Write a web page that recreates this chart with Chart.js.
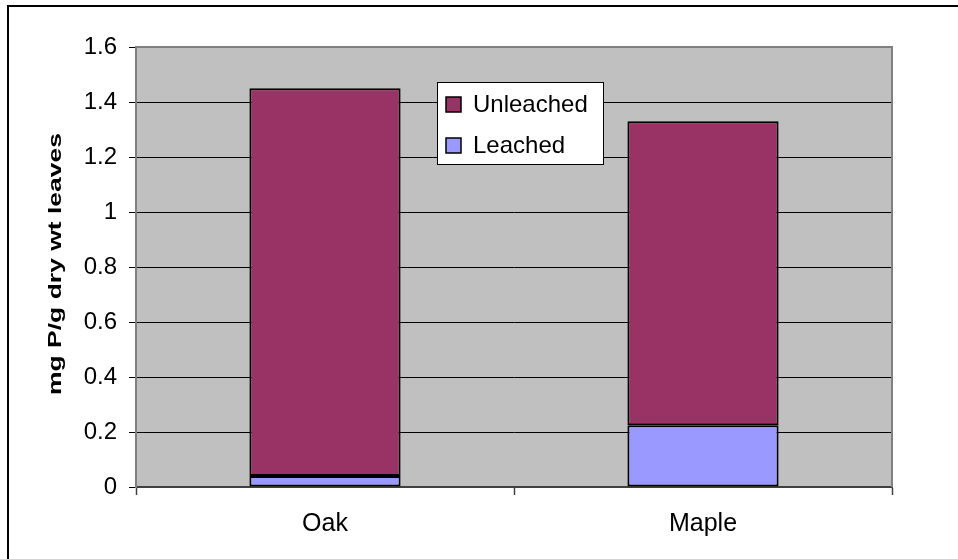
<!DOCTYPE html>
<html>
<head>
<meta charset="utf-8">
<title>Phosphorus in leaves</title>
<script src="https://cdn.jsdelivr.net/npm/chart.js@4/dist/chart.umd.min.js"></script>
<style>
  html, body { margin: 0; padding: 0; background: #ffffff; }
  #wrap { width: 958px; height: 559px; }
</style>
</head>
<body>
<div id="wrap"><canvas id="chart" width="958" height="559"></canvas></div>
<script>
// Phosphorus content (mg P per g dry weight of leaves)
const categories = ['Oak', 'Maple'];
const leached = [0.04, 0.225];
const unleached = [1.41, 1.105];
const yTickLabels = ['0', '0.2', '0.4', '0.6', '0.8', '1', '1.2', '1.4', '1.6'];
const yTitle = 'mg P/g dry wt leaves';

const FONT = '"Liberation Sans", Arial, sans-serif';

// grey plot background plus a grey frame on the top and right edges
const plotBackground = {
  id: 'plotBackground',
  beforeDraw(chart) {
    const { ctx, chartArea: a } = chart;
    ctx.save();
    ctx.fillStyle = '#c0c0c0';
    ctx.fillRect(a.left, a.top, a.right - a.left, a.bottom - a.top);
    ctx.restore();
  },
  afterDatasetsDraw(chart) {
    const { ctx, chartArea: a } = chart;
    ctx.save();
    ctx.strokeStyle = '#808080';
    ctx.lineWidth = 2;
    ctx.beginPath();
    ctx.moveTo(a.left, a.top);
    ctx.lineTo(a.right, a.top);
    ctx.lineTo(a.right, a.bottom);
    ctx.stroke();
    ctx.restore();
  }
};

// boxed legend sitting inside the plot area
const boxedLegend = {
  id: 'boxedLegend',
  afterDraw(chart) {
    const { ctx } = chart;
    const x = 437, y = 82, w = 166, h = 82;
    ctx.save();
    ctx.fillStyle = '#ffffff';
    ctx.fillRect(x, y, w, h);
    ctx.strokeStyle = '#000000';
    ctx.lineWidth = 1;
    ctx.strokeRect(x + 0.5, y + 0.5, w, h);
    const items = chart.data.datasets.slice().reverse();
    const rows = [104.5, 145.5];
    ctx.font = '24px ' + FONT;
    ctx.textBaseline = 'middle';
    ctx.textAlign = 'left';
    items.forEach((ds, i) => {
      const cy = rows[i];
      ctx.fillStyle = ds.backgroundColor;
      ctx.fillRect(446, cy - 7.5, 15, 15);
      ctx.strokeStyle = '#000000';
      ctx.lineWidth = 1.5;
      ctx.strokeRect(446, cy - 7.5, 15, 15);
      ctx.fillStyle = '#000000';
      ctx.fillText(ds.label, 473, cy + 1);
    });
    ctx.restore();
  }
};

// rotated, bold value-axis title, stretched along its reading direction
const axisTitle = {
  id: 'axisTitle',
  afterDraw(chart) {
    const { ctx } = chart;
    ctx.save();
    ctx.font = 'bold 19px ' + FONT;
    const stretch = 262 / ctx.measureText(yTitle).width;
    ctx.translate(56, 264);
    ctx.rotate(-Math.PI / 2);
    ctx.scale(stretch, 1);
    ctx.fillStyle = '#000000';
    ctx.textAlign = 'center';
    ctx.textBaseline = 'middle';
    ctx.fillText(yTitle, 0, 0);
    ctx.restore();
  }
};

// outer chart frame
const outerFrame = {
  id: 'outerFrame',
  afterDraw(chart) {
    const { ctx } = chart;
    ctx.save();
    ctx.strokeStyle = '#000000';
    ctx.lineWidth = 2;
    ctx.beginPath();
    ctx.moveTo(8, 600);
    ctx.lineTo(8, 6);
    ctx.lineTo(1000, 6);
    ctx.stroke();
    ctx.restore();
  }
};

new Chart(document.getElementById('chart'), {
  type: 'bar',
  data: {
    labels: categories,
    datasets: [
      {
        label: 'Leached',
        data: leached,
        backgroundColor: '#9999ff',
        borderColor: '#000000',
        borderWidth: 2,
        borderSkipped: false
      },
      {
        label: 'Unleached',
        data: unleached,
        backgroundColor: '#993366',
        borderColor: '#000000',
        borderWidth: 2,
        borderSkipped: false
      }
    ]
  },
  options: {
    responsive: false,
    animation: false,
    devicePixelRatio: 1,
    layout: { padding: { left: 0, top: 47, right: 66, bottom: 0 } },
    datasets: { bar: { categoryPercentage: 1.0, barPercentage: 0.4 } },
    plugins: {
      legend: { display: false },
      tooltip: { enabled: false },
      title: { display: false }
    },
    scales: {
      x: {
        stacked: true,
        afterFit(scale) { scale.height = 72; },
        grid: {
          offset: true,
          drawOnChartArea: false,
          drawTicks: true,
          tickLength: 8,
          tickColor: '#404040',
          tickWidth: 1.5
        },
        border: { display: true, color: '#404040', width: 2 },
        ticks: {
          color: '#000000',
          padding: 14,
          font: { family: FONT, size: 25 }
        }
      },
      y: {
        stacked: true,
        min: 0,
        max: 1.6,
        afterFit(scale) { scale.width = 136; },
        afterBuildTicks(scale) {
          scale.ticks = yTickLabels.map(t => ({ value: parseFloat(t) }));
        },
        grid: {
          color: ctx => (ctx.tick && ctx.tick.value >= 1.6 ? '#808080' : '#000000'),
          lineWidth: 1,
          drawTicks: true,
          tickLength: 7,
          tickColor: '#000000'
        },
        border: { display: true, color: '#808080', width: 2 },
        ticks: {
          color: '#000000',
          padding: 12,
          font: { family: FONT, size: 24 },
          callback: (v, i) => yTickLabels[i]
        }
      }
    }
  },
  plugins: [plotBackground, boxedLegend, axisTitle, outerFrame]
});
</script>
</body>
</html>
